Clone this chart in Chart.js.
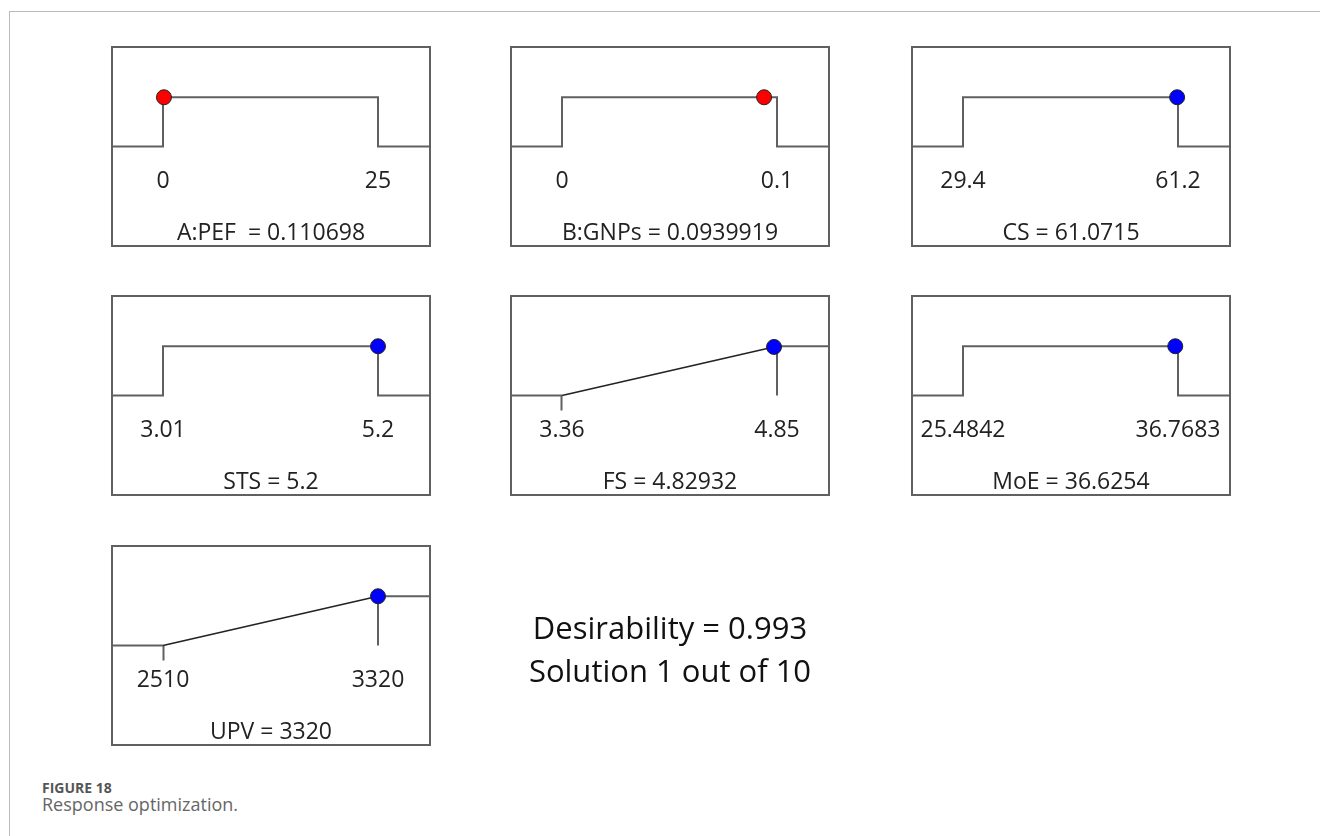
<!DOCTYPE html>
<html>
<head>
<meta charset="utf-8">
<script src="https://cdn.jsdelivr.net/npm/chart.js@4.4.1/dist/chart.umd.min.js"></script>
<style>
    html, body { margin: 0; padding: 0; background: #fff; }
    body { width: 1320px; height: 836px; position: relative; overflow: hidden; font-family: "Open Sans", sans-serif; }
    .frame { position: absolute; left: 9px; top: 11px; width: 1400px; height: 900px; border-top: 1px solid #bbb; border-left: 1px solid #bbb; }
    .panel { position: absolute; width: 320px; height: 201px; }
    .panel canvas { display: block; }
    .desir { position: absolute; left: 420px; width: 500px; text-align: center; font-size: 31px; color: #111; line-height: 42px; }
    .cap1 { position: absolute; left: 42px; top: 778px; font-size: 14px; font-weight: 700; color: #555; }
    .cap2 { position: absolute; left: 42px; top: 792px; font-size: 18px; color: #666; }
</style>
</head>
<body>
<div class="frame"></div>
<div id="panels"></div>
<div class="desir" style="top:606px">Desirability = 0.993</div>
<div class="desir" style="top:649px">Solution 1 out of 10</div>
<div class="cap1">FIGURE 18</div>
<div class="cap2">Response optimization.</div>

<script>
// variables (factors first, then responses)
const names = ['A:PEF ', 'B:GNPs', 'CS', 'STS', 'FS', 'MoE', 'UPV'];
const lows = [0, 0, 29.4, 3.01, 3.36, 25.4842, 2510];
const highs = [25, 0.1, 61.2, 5.2, 4.85, 36.7683, 3320];
const solution = [0.110698, 0.0939919, 61.0715, 5.2, 4.82932, 36.6254, 3320];
const goals = ['range', 'range', 'range', 'range', 'max', 'range', 'max'];
const isFactor = [true, true, false, false, false, false, false];
const labelText = ['0.110698', '0.0939919', '61.0715', '5.2', '4.82932', '36.6254', '3320'];

const lineColor = '#606060';
const textColor = '#222222';

const panelFrame = {
    id: 'panelFrame',
    afterDraw(chart) {
        const ctx = chart.ctx;
        ctx.save();
        ctx.strokeStyle = lineColor;
        ctx.lineWidth = 2;
        ctx.strokeRect(1, 1, chart.width - 2, chart.height - 2);
        ctx.restore();
    }
};

const lefts = [111, 510, 911];
const tops = [46, 295, 545];
const host = document.getElementById('panels');

names.forEach((name, i) => {
    const div = document.createElement('div');
    div.className = 'panel';
    div.style.left = lefts[i % 3] + 'px';
    div.style.top = tops[Math.floor(i / 3)] + 'px';
    const canvas = document.createElement('canvas');
    canvas.width = 320;
    canvas.height = 201;
    div.appendChild(canvas);
    host.appendChild(div);

    const low = lows[i], high = highs[i];
    const span = high - low;
    const xMin = low - span * 52 / 215;
    const xMax = high + span * 53 / 215;
    const ramp = goals[i] === 'max';

    let path, d;
    if (ramp) {
        path = [
            {x: xMin, y: 0}, {x: low, y: 0}, {x: high, y: 1},
            {x: high, y: 0}, {x: high, y: 1}, {x: xMax, y: 1}
        ];
        d = Math.max(0, Math.min(1, (solution[i] - low) / span));
    } else {
        path = [
            {x: xMin, y: 0}, {x: low, y: 0}, {x: low, y: 1},
            {x: high, y: 1}, {x: high, y: 0}, {x: xMax, y: 0}
        ];
        d = 1;
    }

    new Chart(canvas, {
        type: 'line',
        data: {
            datasets: [
                {
                    type: 'scatter',
                    data: [{x: solution[i], y: d}],
                    pointRadius: 7.5,
                    pointBackgroundColor: isFactor[i] ? '#ff0000' : '#0000ff',
                    pointBorderColor: '#222',
                    pointBorderWidth: 1,
                    order: 0,
                    clip: false
                },
                {
                    data: path,
                    borderColor: lineColor,
                    borderWidth: 2,
                    pointRadius: 0,
                    fill: false,
                    tension: 0,
                    order: 1,
                    clip: false,
                    segment: {
                        borderColor: c => (ramp && c.p0DataIndex === 1) ? '#222' : undefined,
                        borderWidth: c => (ramp && c.p0DataIndex === 1) ? 1.6 : undefined
                    }
                }
            ]
        },
        options: {
            responsive: false,
            animation: false,
            events: [],
            layout: { padding: 0, autoPadding: false },
            plugins: {
                legend: { display: false },
                tooltip: { enabled: false }
            },
            scales: {
                x: {
                    type: 'linear',
                    min: xMin,
                    max: xMax,
                    afterBuildTicks: axis => {
                        axis.ticks = [{value: low}, {value: high}];
                    },
                    border: { display: false },
                    grid: {
                        display: true,
                        drawOnChartArea: false,
                        drawTicks: true,
                        tickLength: 15,
                        tickWidth: 2,
                        tickColor: c => (ramp && c.index === 0) ? lineColor : 'rgba(0,0,0,0)'
                    },
                    ticks: {
                        autoSkip: false,
                        maxRotation: 0,
                        padding: 6,
                        color: textColor,
                        font: { family: 'Open Sans', size: 23 },
                        callback: v => String(v)
                    },
                    title: {
                        display: true,
                        text: name + ' = ' + labelText[i],
                        color: textColor,
                        font: { family: 'Open Sans', size: 23 },
                        padding: { top: 24.8, bottom: 0 }
                    }
                },
                y: {
                    display: false,
                    min: 0,
                    max: 100 / 49
                }
            }
        },
        plugins: [panelFrame]
    });
});
</script>
</body>
</html>
